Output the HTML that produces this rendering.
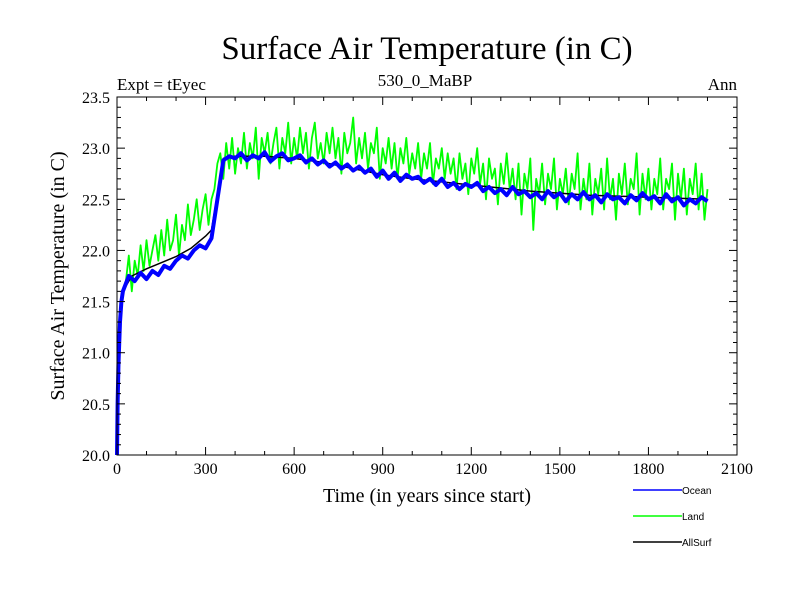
<!DOCTYPE html>
<html><head><meta charset="utf-8"><style>
body{margin:0;background:#fff}
svg{display:block}
.s{font-family:"Liberation Serif",serif;fill:#000}
.l{font-family:"Liberation Sans",sans-serif;font-size:10px;fill:#000}
</style></head><body>
<svg id="chart" width="800" height="600">
<rect width="800" height="600" fill="#fff"/>
<text class="s" x="427" y="59" font-size="33" text-anchor="middle">Surface Air Temperature (in C)</text>
<text class="s" x="117" y="90" font-size="17">Expt = tEyec</text>
<text class="s" x="425" y="86" font-size="17" text-anchor="middle">530_0_MaBP</text>
<text class="s" x="737" y="90" font-size="17" text-anchor="end">Ann</text>
<text class="s" x="427" y="502" font-size="20" text-anchor="middle">Time (in years since start)</text>
<text class="s" transform="translate(64,276) rotate(-90)" font-size="20" text-anchor="middle">Surface Air Temperature (in C)</text>
<g id="plot"></g>
<rect x="117" y="97" width="620" height="358" fill="none" stroke="#000" stroke-width="1"/>
<g id="ticks"></g>
<g>
<line x1="633" y1="490" x2="682" y2="490" stroke="#00f" stroke-width="1.5"/>
<text class="l" x="682" y="494">Ocean</text>
<line x1="633" y1="516" x2="682" y2="516" stroke="#0f0" stroke-width="1.5"/>
<text class="l" x="682" y="520">Land</text>
<line x1="633" y1="542" x2="682" y2="542" stroke="#000" stroke-width="1.5"/>
<text class="l" x="682" y="546">AllSurf</text>
</g>
</svg>
<script>
const xTicks=[0,300,600,900,1200,1500,1800,2100];
const yTicks=[20.0,20.5,21.0,21.5,22.0,22.5,23.0,23.5];
const landYearsHead=[0,3,6,10,15,20];
const landHead=[20.0,20.6,21.0,21.3,21.5,21.6];
const land=[21.7,21.95,21.6,21.9,21.75,22.05,21.8,22.1,21.85,22.0,
22.15,21.9,22.2,21.95,22.3,22.0,22.1,22.35,21.95,22.25,
22.1,22.45,22.15,22.3,22.5,22.2,22.4,22.55,22.25,22.5,
22.6,22.85,22.95,22.7,23.05,22.8,23.1,22.75,23.0,22.85,
23.15,22.8,23.05,22.9,23.2,22.7,23.1,22.95,23.15,22.85,
23.05,23.2,22.8,23.1,22.95,23.25,22.85,23.1,22.9,23.2,
22.95,23.15,22.8,23.1,23.25,22.9,23.05,22.85,23.15,22.95,
23.2,22.9,23.1,22.75,23.15,22.95,23.05,23.3,22.85,23.1,
22.9,23.15,22.8,23.05,22.95,23.2,22.7,23.0,22.85,23.1,
22.8,23.05,22.7,23.0,22.85,23.1,22.75,22.95,22.8,23.05,
22.7,22.95,22.8,23.05,22.65,22.9,22.8,23.0,22.7,22.95,
22.75,22.9,22.6,22.95,22.7,22.85,22.55,22.9,22.75,23.0,
22.65,22.85,22.5,22.9,22.7,22.8,22.45,22.85,22.65,22.95,
22.6,22.8,22.5,22.85,22.35,22.75,22.6,22.9,22.2,22.7,
22.55,22.85,22.45,22.75,22.6,22.9,22.4,22.7,22.55,22.8,
22.45,22.75,22.6,22.95,22.4,22.7,22.5,22.85,22.35,22.7,
22.55,22.8,22.4,22.9,22.5,22.7,22.3,22.75,22.55,22.85,
22.45,22.7,22.6,22.95,22.35,22.75,22.5,22.8,22.4,22.7,
22.55,22.9,22.4,22.7,22.6,22.85,22.3,22.75,22.5,22.8,
22.35,22.7,22.55,22.85,22.4,22.75,22.3,22.6];
const oceanYearsHead=[0,2,5,10,15];
const oceanHead=[20.0,20.5,20.9,21.3,21.5];
const ocean=[21.6,21.75,21.7,21.78,21.72,21.8,21.76,21.85,21.82,21.9,
21.95,21.92,22.0,22.05,22.02,22.12,22.5,22.88,22.92,22.9,
22.95,22.88,22.93,22.9,22.96,22.87,22.92,22.95,22.88,22.9,
22.93,22.86,22.9,22.84,22.88,22.82,22.86,22.8,22.84,22.78,
22.82,22.76,22.8,22.72,22.78,22.7,22.76,22.68,22.74,22.7,
22.72,22.66,22.7,22.64,22.7,22.62,22.66,22.6,22.65,22.62,
22.66,22.58,22.62,22.56,22.6,22.54,22.62,22.55,22.58,22.52,
22.56,22.5,22.58,22.52,22.56,22.48,22.55,22.5,22.57,22.5,
22.54,22.47,22.55,22.5,22.52,22.46,22.54,22.49,22.56,22.5,
22.53,22.46,22.55,22.48,22.52,22.44,22.5,22.46,22.52,22.48];
const allYears=[0,10,20,50,100,150,200,250,300,320,340,360,400,500,600,700,800,900,1000,1200,1400,1600,1800,2000];
const allSurf=[20.0,21.3,21.6,21.75,21.82,21.88,21.94,22.02,22.14,22.2,22.55,22.9,22.92,22.92,22.9,22.86,22.8,22.74,22.7,22.64,22.58,22.54,22.52,22.5];

const X=v=>117+v*620/2100, Y=v=>455-(v-20)*358/3.5;
const NS='http://www.w3.org/2000/svg';
const plot=document.getElementById('plot'), tk=document.getElementById('ticks');
function mk(tag,a,p){const e=document.createElementNS(NS,tag);for(const k in a)e.setAttribute(k,a[k]);p.appendChild(e);return e;}
function line(yrs,vals,color,w,name){
 const d=yrs.map((t,i)=>(i?'L':'M')+X(t).toFixed(1)+','+Y(vals[i]).toFixed(1)).join('');
 const p=mk('path',{d:d,fill:'none',stroke:color,'stroke-width':w,'stroke-linejoin':'round'},plot);
 
 
}
const landYears=landYearsHead.concat(land.map((_,i)=>30+i*10));
const landVals=landHead.concat(land);
const oceanYears=oceanYearsHead.concat(ocean.map((_,i)=>20+i*20));
const oceanVals=oceanHead.concat(ocean);
line(landYears,landVals,'#00ff00',1.8,'land-series');
line(allYears,allSurf,'#000',1.5,'allsurf-series');
line(oceanYears,oceanVals,'#0000ff',4,'ocean-series');
for(let v=0;v<=2100;v+=100){
 const major=v%300===0, L=major?8:4, x=X(v);
 mk('line',{x1:x,y1:455,x2:x,y2:455-L,stroke:'#000'},tk);
 mk('line',{x1:x,y1:97,x2:x,y2:97+L,stroke:'#000'},tk);
}
xTicks.forEach(v=>{const t=mk('text',{x:X(v),y:474,'text-anchor':'middle','font-size':16,class:'s'},tk);t.textContent=v;
 
 });
for(let i=0;i<=35;i++){
 const v=20+i*0.1, major=i%5===0, L=major?8:4, y=Y(v);
 mk('line',{x1:117,y1:y,x2:117+L,y2:y,stroke:'#000'},tk);
 mk('line',{x1:737,y1:y,x2:737-L,y2:y,stroke:'#000'},tk);
}
yTicks.forEach(v=>{const t=mk('text',{x:110,y:Y(v)+6,'text-anchor':'end','font-size':16,class:'s'},tk);t.textContent=v.toFixed(1);
 
 });
</script>
</body></html>
